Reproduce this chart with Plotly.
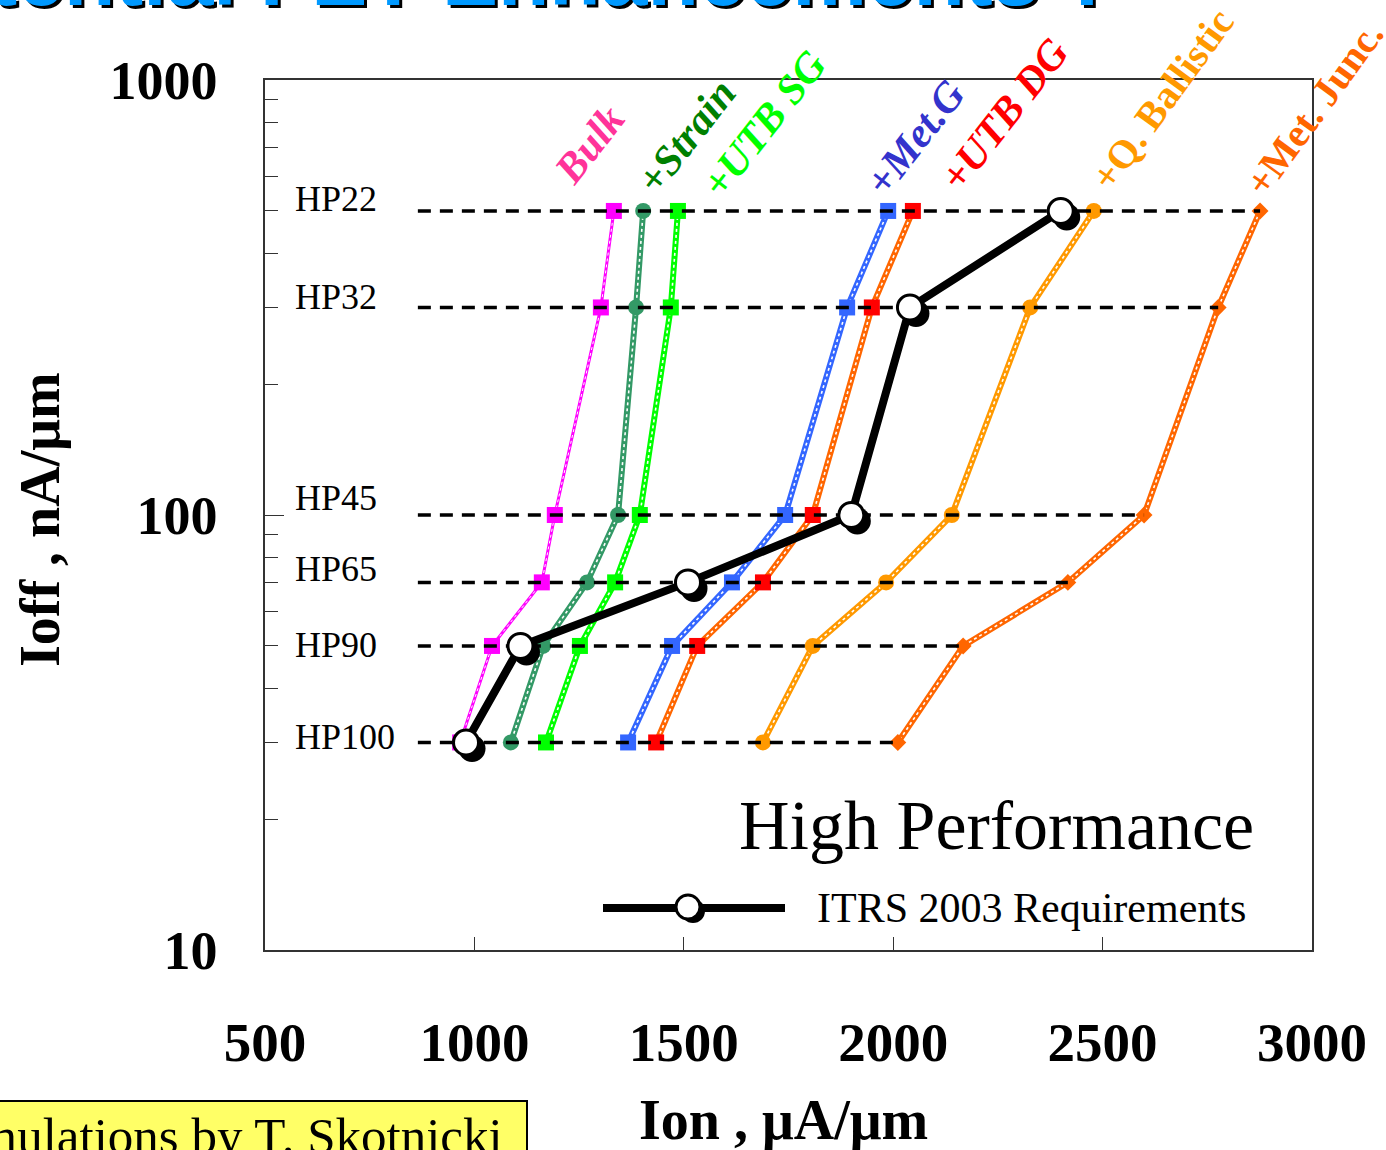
import math
import plotly.graph_objects as go

# ---------------- data ----------------
HP_NODES = ["HP22", "HP32", "HP45", "HP65", "HP90", "HP100"]
IOFF = [500, 300, 100, 70, 50, 30]          # nA/um for each node

BULK = [1333, 1302, 1192, 1161, 1042, 966]
STRAIN = [1403, 1386, 1343, 1269, 1164, 1087]
UTB_SG = [1486, 1469, 1395, 1336, 1252, 1171]
MET_G = [1988, 1890, 1742, 1615, 1472, 1367]
UTB_DG = [2047, 1949, 1808, 1689, 1532, 1434]
Q_BALLISTIC = [2479, 2327, 2140, 1983, 1808, 1689]
MET_JUNC = [2876, 2776, 2599, 2417, 2167, 2011]
ITRS_2003 = [2400, 2040, 1900, 1510, 1110, 980]

HP_LINE_START = 865   # Ion where the dashed requirement lines begin

SERIES_NAMES = ["Bulk", "+Strain", "+UTB SG", "+Met.G", "+UTB DG", "+Q. Ballistic", "+Met. Junc."]
SERIES_DATA = [BULK, STRAIN, UTB_SG, MET_G, UTB_DG, Q_BALLISTIC, MET_JUNC]

X_TICKS = [500, 1000, 1500, 2000, 2500, 3000]
Y_TICKS = [10, 100, 1000]

# ---------------- styles ----------------
line_colors = ["#FF00FF", "#339966", "#00FF00", "#3366FF", "#FF6600", "#FF9900", "#FF6600"]
marker_colors = ["#FF00FF", "#339966", "#00FF00", "#3366FF", "#FF0000", "#FF9900", "#FF6600"]
marker_symbols = ["square", "circle", "square", "square", "square", "circle", "diamond"]
marker_sizes = [16, 16, 16, 16, 16, 16, 13]
line_widths = [3, 6, 6, 6, 6, 6, 6]
label_colors = ["#FF3399", "#008000", "#00FF00", "#3333CC", "#FF0000", "#FF9900", "#FF6600"]
label_italic = [True, True, True, True, True, False, False]
label_angles = [-52, -52, -52, -52, -52, -54, -54]
# label centres in pixel space (x px, y px)
label_pos = [(589, 145), (686, 137), (764, 124), (915, 138), (1004, 115), (1162, 99), (1314, 108)]
hp_label_yshift = [12, 10, 17, 13, 1, 5]

W, H = 1386, 1150
L, R, T, B = 265, 74, 80, 200
PW, PH = W - L - R, H - T - B


def px_x(px):
    return (px - L) / PW


def px_y(py):
    return (H - B - py) / PH


SERIF = "Liberation Serif"

fig = go.Figure()

# coloured simulation series
for i, (name, xs) in enumerate(zip(SERIES_NAMES, SERIES_DATA)):
    fig.add_trace(go.Scatter(x=xs, y=IOFF, mode="lines",
                             line=dict(color=line_colors[i], width=line_widths[i]),
                             showlegend=False, hoverinfo="skip"))
    fig.add_trace(go.Scatter(x=xs, y=IOFF, mode="lines",
                             line=dict(color="white", width=1.6 if i else 1, dash="dot"),
                             showlegend=False, hoverinfo="skip"))
    fig.add_trace(go.Scatter(x=xs, y=IOFF, mode="markers", name=name,
                             marker=dict(color=marker_colors[i], symbol=marker_symbols[i],
                                         size=marker_sizes[i], line=dict(width=0)),
                             showlegend=False))

# dashed requirement lines for each node
hx, hy = [], []
for yv, xe in zip(IOFF, MET_JUNC):
    hx += [HP_LINE_START, xe, None]
    hy += [yv, yv, None]
fig.add_trace(go.Scatter(x=hx, y=hy, mode="lines",
                         line=dict(color="black", width=3.5, dash="13px,9px"),
                         showlegend=False, hoverinfo="skip"))

# ITRS 2003 requirements (with shadowed open circles)
dx_units = 6 * (3000 - 500) / PW
y_factor = 10 ** (-6 * 2 / PH)
fig.add_trace(go.Scatter(x=[v + dx_units for v in ITRS_2003], y=[v * y_factor for v in IOFF],
                         mode="markers", marker=dict(color="black", size=27, line=dict(width=0)),
                         showlegend=False, hoverinfo="skip"))
fig.add_trace(go.Scatter(x=ITRS_2003, y=IOFF, mode="lines+markers", name="ITRS 2003 Requirements",
                         line=dict(color="black", width=8),
                         marker=dict(color="white", size=25, line=dict(color="black", width=3)),
                         showlegend=False))

annotations = []
shapes = []

# series labels
for i, name in enumerate(SERIES_NAMES):
    xp, yp = label_pos[i]
    annotations.append(dict(x=px_x(xp), y=px_y(yp), xref="paper", yref="paper", text=name,
                            showarrow=False, textangle=label_angles[i], xanchor="center", yanchor="middle",
                            font=dict(family=SERIF, size=42 if label_italic[i] else 40,
                                      color=label_colors[i],
                                      style="italic" if label_italic[i] else "normal",
                                      weight="bold")))

# HP node labels (log axis -> annotation y in log10 units)
for name, yv, ys in zip(HP_NODES, IOFF, hp_label_yshift):
    annotations.append(dict(x=px_x(293), y=math.log10(yv), xref="paper", yref="y", text=name,
                            showarrow=False, xanchor="left", yanchor="middle", yshift=ys,
                            font=dict(family=SERIF, size=36, color="black")))

# High Performance
annotations.append(dict(x=px_x(996), y=px_y(825), xref="paper", yref="paper", text="High Performance",
                        showarrow=False, xanchor="center", yanchor="middle",
                        font=dict(family=SERIF, size=70, color="black")))

# legend (manual)
shapes.append(dict(type="line", xref="paper", yref="paper", x0=px_x(603), x1=px_x(785),
                   y0=px_y(908), y1=px_y(908), line=dict(color="black", width=8)))
shapes.append(dict(type="circle", xref="paper", yref="paper", x0=px_x(681), x1=px_x(705),
                   y0=px_y(899), y1=px_y(923), fillcolor="black", line=dict(width=0)))
shapes.append(dict(type="circle", xref="paper", yref="paper", x0=px_x(676), x1=px_x(700),
                   y0=px_y(895), y1=px_y(919), fillcolor="white", line=dict(color="black", width=3)))
annotations.append(dict(x=px_x(815), y=px_y(908), xref="paper", yref="paper",
                        text="ITRS 2003 Requirements", showarrow=False, xanchor="left", yanchor="middle",
                        font=dict(family=SERIF, size=42, color="black")))

# axis titles
annotations.append(dict(x=px_x(783), y=px_y(1120), xref="paper", yref="paper", text="Ion , μA/μm",
                        showarrow=False, xanchor="center", yanchor="middle",
                        font=dict(family=SERIF, size=56, color="black", weight="bold")))
annotations.append(dict(x=px_x(40), y=px_y(520), xref="paper", yref="paper", text="Ioff , nA/μm",
                        showarrow=False, xanchor="center", yanchor="middle", textangle=-90,
                        font=dict(family=SERIF, size=56, color="black", weight="bold")))

# slide title (cut off at top)
for col, off in (("black", 3), ("#0099FF", 0)):
    annotations.append(dict(x=px_x(1116 + off), y=px_y(25 + off), xref="paper", yref="paper",
                            text="Potential FET Enhancements ?", showarrow=False,
                            xanchor="right", yanchor="bottom",
                            font=dict(family="Liberation Sans", size=84, color=col, weight="bold")))

# yellow credit box
shapes.append(dict(type="rect", xref="paper", yref="paper", x0=px_x(-10), x1=px_x(527),
                   y0=px_y(1170), y1=px_y(1101), fillcolor="#FFFF66", line=dict(color="black", width=2),
                   layer="above"))
annotations.append(dict(x=px_x(505), y=px_y(1106), xref="paper", yref="paper",
                        text="Simulations by T. Skotnicki", showarrow=False, xanchor="right", yanchor="top",
                        font=dict(family=SERIF, size=51, color="black")))

fig.update_layout(
    width=W, height=H,
    margin=dict(l=L, r=R, t=T, b=B, autoexpand=False),
    paper_bgcolor="white", plot_bgcolor="white",
    showlegend=False,
    annotations=annotations, shapes=shapes,
    xaxis=dict(range=[500, 3000], tickvals=X_TICKS, ticks="inside", ticklen=13, tickcolor="#333",
               showgrid=False, zeroline=False, showline=True, linecolor="#333", linewidth=1.5, mirror=True,
               tickfont=dict(family=SERIF, size=55, color="black", weight="bold"),
               ticklabelstandoff=43),
    yaxis=dict(type="log", range=[1, 3], tickvals=Y_TICKS, ticktext=[str(v) for v in Y_TICKS],
               ticks="inside", ticklen=19, tickcolor="#333",
               minor=dict(tickvals=[v * m for v in (10, 100) for m in range(2, 10)], ticks="inside",
                          ticklen=13, tickcolor="#333"),
               showgrid=False, zeroline=False, showline=True, linecolor="#333", linewidth=1.5, mirror=True,
               tickfont=dict(family=SERIF, size=54, color="black", weight="bold"),
               ticklabelstandoff=35),
)

fig.write_html("out.html", config={"displayModeBar": False},
               post_script="document.body.style.margin='0px';")
